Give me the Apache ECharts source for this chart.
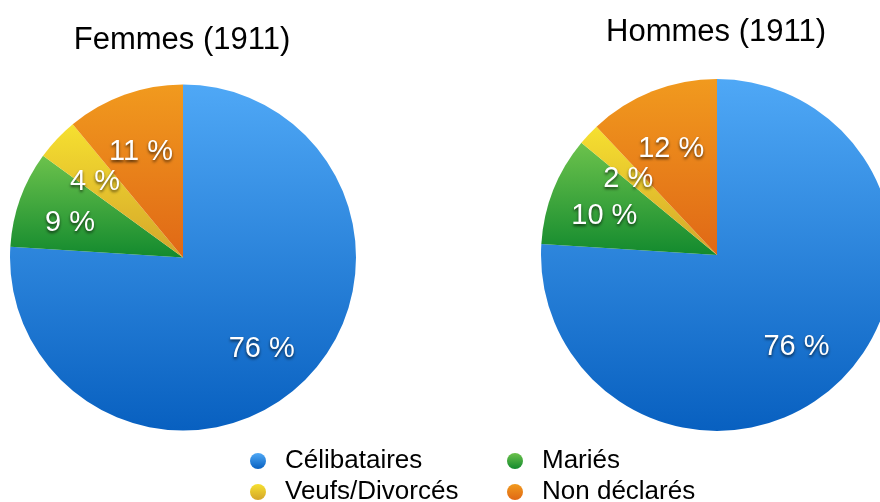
<!DOCTYPE html>
<html>
<head>
<meta charset="utf-8">
<title>État matrimonial (1911)</title>
<script src="https://cdn.jsdelivr.net/npm/echarts@6/dist/echarts.min.js"></script>
<style>
  html, body { margin: 0; padding: 0; background: #ffffff; }
  #chart { width: 880px; height: 502px; }
</style>
</head>
<body>
<div id="chart"></div>
<script>
// Marital status categories, in clockwise order from 12 o'clock
const categories = ['Célibataires', 'Mariés', 'Veufs/Divorcés', 'Non déclarés'];
// Shares in percent
const femmesValues = [76, 9, 4, 11];
const hommesValues = [76, 10, 2, 12];
const titles = ['Femmes (1911)', 'Hommes (1911)'];

const FONT = '"Liberation Sans", Helvetica, Arial, sans-serif';

// Vertical gradients (top -> bottom) for each category
const gradients = [
  ['#4fa8f6', '#0860c0'],
  ['#6cc24c', '#138a2e'],
  ['#f6e030', '#d4a52a'],
  ['#f19a1e', '#e06816']
];
function grad(i) {
  return new echarts.graphic.LinearGradient(0, 0, 0, 1, [
    { offset: 0, color: gradients[i][0] },
    { offset: 1, color: gradients[i][1] }
  ]);
}

function pieData(values) {
  return categories.map((name, i) => ({
    name: name,
    value: values[i],
    itemStyle: { color: grad(i) }
  }));
}

function labelData(values) {
  return categories.map((name, i) => ({ name: name, value: values[i] }));
}

const labelStyle = {
  show: true,
  position: 'inside',
  formatter: p => p.value + ' %',
  color: '#ffffff',
  fontFamily: FONT,
  fontSize: 29,
  textShadowColor: 'rgba(0,0,0,0.65)',
  textShadowBlur: 3,
  textShadowOffsetX: 0,
  textShadowOffsetY: 2
};

function pieSeries(values, center, radius) {
  return {
    type: 'pie',
    center: center,
    radius: radius,
    startAngle: 90,
    clockwise: true,
    silent: true,
    label: { show: false },
    labelLine: { show: false },
    itemStyle: { borderWidth: 0 },
    data: pieData(values)
  };
}

// Transparent ring used only to place the percentage labels at ~2/3 of the radius
function labelSeries(values, center, inner, outer) {
  return {
    type: 'pie',
    center: center,
    radius: [inner, outer],
    startAngle: 90,
    clockwise: true,
    silent: true,
    itemStyle: { color: 'rgba(0,0,0,0)', borderWidth: 0 },
    label: labelStyle,
    labelLine: { show: false },
    data: labelData(values)
  };
}

const legendText = { fontFamily: FONT, fontSize: 26, color: '#000000', padding: [0, 0, 0, 12] };

// One legend entry per grid cell: two columns, two rows
const legendCells = [
  { name: categories[0], left: 250, top: 448 },
  { name: categories[1], left: 507, top: 448 },
  { name: categories[2], left: 250, top: 479 },
  { name: categories[3], left: 507, top: 479 }
];

const option = {
  animation: false,
  backgroundColor: '#ffffff',
  title: [
    { text: titles[0], left: 177, top: 20, textAlign: 'center',
      textStyle: { fontFamily: FONT, fontSize: 31, fontWeight: 'normal', color: '#000' } },
    { text: titles[1], left: 711, top: 12, textAlign: 'center',
      textStyle: { fontFamily: FONT, fontSize: 31, fontWeight: 'normal', color: '#000' } }
  ],
  legend: legendCells.map(c => ({
    orient: 'horizontal', left: c.left, top: c.top, padding: 0,
    itemWidth: 20, itemHeight: 16, icon: 'circle', selectedMode: false,
    data: [c.name], textStyle: legendText
  })),
  series: [
    pieSeries(femmesValues, [183, 257.5], 173),
    pieSeries(hommesValues, [717, 255], 176),
    labelSeries(femmesValues, [181, 263], 57, 173),
    labelSeries(hommesValues, [715, 260], 56, 176)
  ]
};

const chart = echarts.init(document.getElementById('chart'), null, { renderer: 'canvas' });
chart.setOption(option);
</script>
</body>
</html>
